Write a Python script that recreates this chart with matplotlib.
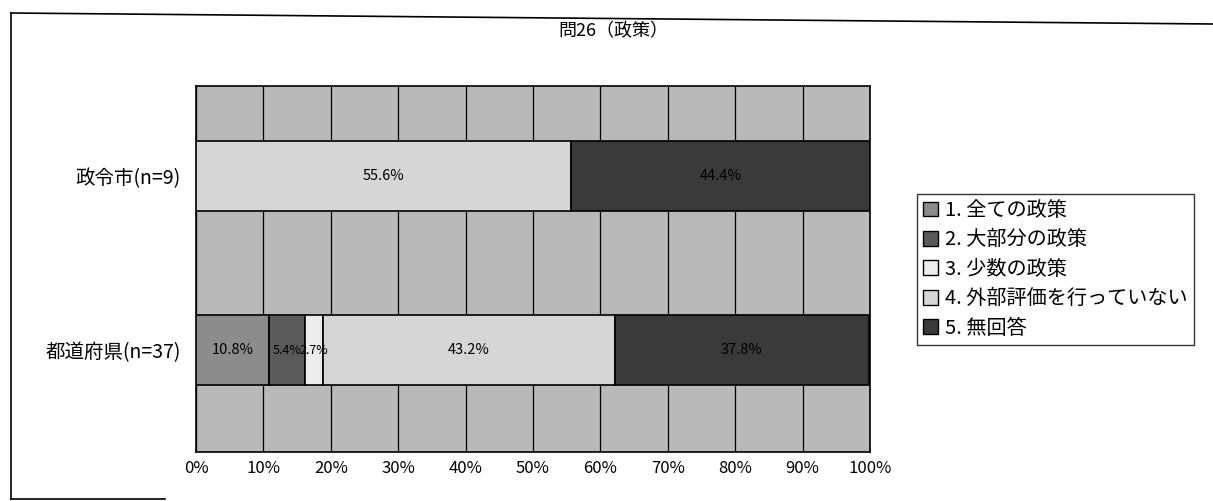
import numpy as np
import matplotlib.pyplot as plt
from matplotlib.lines import Line2D

plt.rcParams['font.family'] = ['Noto Sans CJK JP', 'DejaVu Sans']

# survey answers, share of respondents (%)
groups = ['都道府県(n=37)', '政令市(n=9)']
answers = ['1. 全ての政策', '2. 大部分の政策', '3. 少数の政策',
           '4. 外部評価を行っていない', '5. 無回答']
shares = {
    '1. 全ての政策': [10.8, 0.0],
    '2. 大部分の政策': [5.4, 0.0],
    '3. 少数の政策': [2.7, 0.0],
    '4. 外部評価を行っていない': [43.2, 55.6],
    '5. 無回答': [37.8, 44.4],
}
colors = ['#8c8c8c', '#5a5a5a', '#ececec', '#d6d6d6', '#3a3a3a']
xticks = np.arange(0, 101, 10)

fig = plt.figure(figsize=(12.13, 5.01), dpi=100)
ax = fig.add_axes([0.1616, 0.0978, 0.5556, 0.7305])
ax.set_facecolor('#b9b9b9')

y = np.arange(len(groups))
left = np.zeros(len(groups))
for name, col in zip(answers, colors):
    vals = np.array(shares[name])
    ax.barh(y, vals, left=left, height=0.40, color=col,
            edgecolor='black', linewidth=1.2, zorder=3, label=name)
    for i, v in enumerate(vals):
        if v > 0:
            # narrow segments get a smaller label
            fs = 10.5 if v > 8 else 9
            ax.text(left[i] + v / 2, y[i], f'{v:.1f}%', ha='center',
                    va='center', fontsize=fs, color='black', zorder=4)
    left += vals

ax.set_xlim(0, 100)
ax.set_ylim(-0.586, 1.517)
ax.set_xticks(xticks)
ax.set_xticklabels([f'{t}%' for t in xticks], fontsize=12)
ax.set_yticks(y)
ax.set_yticklabels(groups, fontsize=14)
ax.tick_params(axis='x', length=0, pad=6)
ax.tick_params(axis='y', length=0, pad=11)
ax.grid(axis='x', color='black', linewidth=0.9, zorder=1)
for s in ax.spines.values():
    s.set_linewidth(1.2)

fig.text(0.506, 0.938, '問26（政策）', ha='center', va='center', fontsize=13)

handles = [plt.Rectangle((0, 0), 1, 1, facecolor=c, edgecolor='black',
                         linewidth=1.0) for c in colors]
leg = fig.legend(handles, answers, loc='upper left',
                 bbox_to_anchor=(0.756, 0.613), fontsize=14.5,
                 frameon=True, fancybox=False, edgecolor='black',
                 handlelength=0.75, handleheight=0.75, handletextpad=0.35,
                 labelspacing=0.42, borderpad=0.3, borderaxespad=0)
leg.get_frame().set_linewidth(1.0)

# outer chart frame
fig.add_artist(Line2D([11 / 1213, 11 / 1213], [1 - 13 / 501, 1 - 499 / 501],
                      transform=fig.transFigure, color='black', lw=1.2))
fig.add_artist(Line2D([11 / 1213, 1.0], [1 - 13 / 501, 1 - 24 / 501],
                      transform=fig.transFigure, color='black', lw=1.2))
fig.add_artist(Line2D([11 / 1213, 165 / 1213], [1 - 499 / 501, 1 - 499 / 501],
                      transform=fig.transFigure, color='black', lw=1.2))

fig.savefig('out.png', dpi=100)
